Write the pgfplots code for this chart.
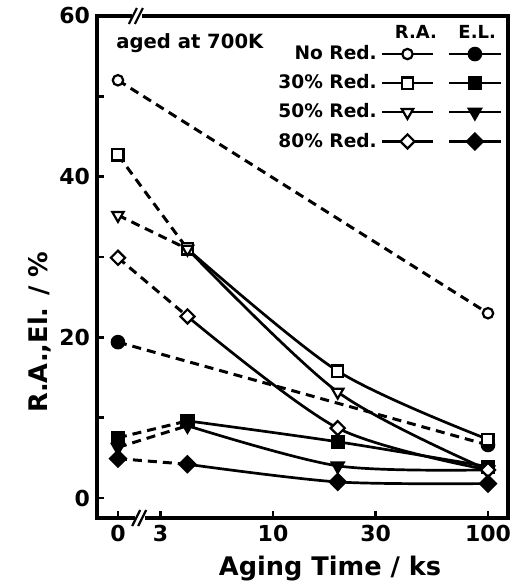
\documentclass[border=0pt]{standalone}
\usepackage{fontspec}
\setmainfont{DejaVu Sans}
\usepackage{pgfplots}
\pgfplotsset{compat=1.18}

\pgfplotsset{
  dsh/.style={black, line width=1.5pt, dash pattern=on 4.5pt off 3pt, no marks, forget plot},
  crv/.style={black, line width=1.35pt, smooth, no marks, forget plot},
  mk/.style={only marks, forget plot},
  oCirc/.style={black, line width=1.1pt, mark=*, mark size=2.6pt, mark options={solid, fill=white, line width=1.1pt}},
  oSq/.style={black, line width=1.1pt, mark=square*, mark size=2.8pt, mark options={solid, fill=white, line width=1.1pt}},
  oTri/.style={black, line width=1.1pt, mark=triangle*, mark size=3.3pt, mark options={solid, fill=white, line width=1.1pt, rotate=180}},
  oDia/.style={black, line width=1.1pt, mark=square*, mark size=2.5pt, mark options={solid, fill=white, line width=1.1pt, rotate=45}},
  fCirc/.style={black, line width=1.1pt, mark=*, mark size=3.1pt, mark options={solid, fill=black}},
  fSq/.style={black, line width=1.1pt, mark=square*, mark size=3pt, mark options={solid, fill=black}},
  fTri/.style={black, line width=1.1pt, mark=triangle*, mark size=3.5pt, mark options={solid, fill=black, rotate=180}},
  fDia/.style={black, line width=1.1pt, mark=square*, mark size=2.8pt, mark options={solid, fill=black, rotate=45}},
}

\begin{document}
\begin{tikzpicture}
\path[use as bounding box] (-48.5pt,-33.5pt) rectangle (210.5pt,259pt);
\begin{axis}[
  scale only axis,
  width=205.5pt, height=251pt,
  xmode=log,
  xmin=1.518, xmax=123.9,
  ymin=-2.49, ymax=60,
  xtick={1.9,3,10,30,100},
  xticklabels={0,3,10,30,100},
  minor xtick={},
  ytick={0,20,40,60},
  minor ytick={10,30,50},
  xtick pos=bottom, ytick pos=left,
  tick align=inside,
  major tick length=3.5pt, minor tick length=3.5pt,
  every tick/.style={black, line width=1.4pt},
  axis line style={line width=1.6pt},
  /pgf/number format/assume math mode=true,
  ticklabel style={font=\bfseries\fontsize{11}{12}\selectfont},
  label style={font=\bfseries\fontsize{12.8}{14}\selectfont},
  xlabel={Aging Time / ks},
  ylabel={R.A.,El. / \%},
  xlabel style={at={(axis description cs:0.567,-0.1)}, anchor=center},
  ylabel style={at={(axis description cs:-0.14,0.37)}, anchor=center},
  clip=false,
  legend columns=2,
  legend plot pos=right,
  legend cell align=right,
  legend image code/.code={\draw[mark repeat=2, mark phase=2, #1] plot coordinates {(0cm,0cm) (0.45cm,0cm) (0.9cm,0cm)};},
  legend style={draw=none, fill=none, at={(rel axis cs:1.0,0.958)}, anchor=north east,
    font=\bfseries\fontsize{9.3}{10}\selectfont, row sep=2pt,
    /tikz/every even column/.append style={column sep=3pt}},
]
% No reduction
\addplot[dsh] coordinates {(1.9,52.0) (100,23.0)};
\addplot[dsh] coordinates {(1.9,19.4) (100,6.6)};
% 30% reduction
\addplot[dsh] coordinates {(1.9,42.7) (4,31.0)};
\addplot[crv] coordinates {(4,31.0) (20,15.8) (100,7.3)};
\addplot[dsh] coordinates {(1.9,7.5) (4,9.6)};
\addplot[crv] coordinates {(4,9.6) (20,7.0) (100,3.9)};
% 50% reduction
\addplot[dsh] coordinates {(1.9,35.2) (4,31.0)};
\addplot[crv] coordinates {(4,31.0) (20,13.2) (100,3.5)};
\addplot[dsh] coordinates {(1.9,6.3) (4,9.0)};
\addplot[crv] coordinates {(4,9.0) (20,4.0) (100,3.5)};
% 80% reduction
\addplot[dsh] coordinates {(1.9,29.9) (4,22.6)};
\addplot[crv] coordinates {(4,22.6) (20,8.7) (100,3.5)};
\addplot[dsh] coordinates {(1.9,4.9) (4,4.2)};
\addplot[crv] coordinates {(4,4.2) (20,2.0) (100,1.8)};

% marks
\addplot[oCirc, mk] coordinates {(1.9,52.0) (100,23.0)};
\addplot[fCirc, mk] coordinates {(1.9,19.4) (100,6.6)};
\addplot[oSq, mk] coordinates {(1.9,42.7) (4,31.0) (20,15.8) (100,7.3)};
\addplot[fSq, mk] coordinates {(1.9,7.5) (4,9.6) (20,7.0) (100,3.9)};
\addplot[oTri, mk] coordinates {(1.9,35.2) (4,31.0) (20,13.2) (100,3.5)};
\addplot[fTri, mk] coordinates {(1.9,6.3) (4,9.0) (20,4.0) (100,3.5)};
\addplot[oDia, mk] coordinates {(1.9,29.9) (4,22.6) (20,8.7) (100,3.5)};
\addplot[fDia, mk] coordinates {(1.9,4.9) (4,4.2) (20,2.0) (100,1.8)};

% legend
\addlegendimage{oCirc}\addlegendentry{No Red.}
\addlegendimage{fCirc}\addlegendentry{}
\addlegendimage{oSq}\addlegendentry{30\% Red.}
\addlegendimage{fSq}\addlegendentry{}
\addlegendimage{oTri}\addlegendentry{50\% Red.}
\addlegendimage{fTri}\addlegendentry{}
\addlegendimage{oDia}\addlegendentry{80\% Red.}
\addlegendimage{fDia}\addlegendentry{}

\node[font=\bfseries\fontsize{9}{10}\selectfont] at (rel axis cs:0.776,0.968) {R.A.};
\node[font=\bfseries\fontsize{9}{10}\selectfont] at (rel axis cs:0.925,0.968) {E.L.};
\node[font=\bfseries\fontsize{9.8}{11}\selectfont] at (rel axis cs:0.226,0.946) {aged at 700K};

% axis breaks
\fill[white] ([xshift=-2.5pt,yshift=-2pt]rel axis cs:0.097,1) rectangle ([xshift=2.5pt,yshift=2pt]rel axis cs:0.097,1);
\draw[line width=1.1pt] ([xshift=-4pt,yshift=-4pt]rel axis cs:0.097,1) -- ([xshift=0pt,yshift=4pt]rel axis cs:0.097,1);
\draw[line width=1.1pt] ([xshift=-1pt,yshift=-4pt]rel axis cs:0.097,1) -- ([xshift=3pt,yshift=4pt]rel axis cs:0.097,1);
\fill[white] ([xshift=-2.5pt,yshift=-2pt]rel axis cs:0.105,0) rectangle ([xshift=2.5pt,yshift=2pt]rel axis cs:0.105,0);
\draw[line width=1.1pt] ([xshift=-4pt,yshift=-4pt]rel axis cs:0.105,0) -- ([xshift=0pt,yshift=4pt]rel axis cs:0.105,0);
\draw[line width=1.1pt] ([xshift=-1pt,yshift=-4pt]rel axis cs:0.105,0) -- ([xshift=3pt,yshift=4pt]rel axis cs:0.105,0);
\end{axis}
\end{tikzpicture}
\end{document}
